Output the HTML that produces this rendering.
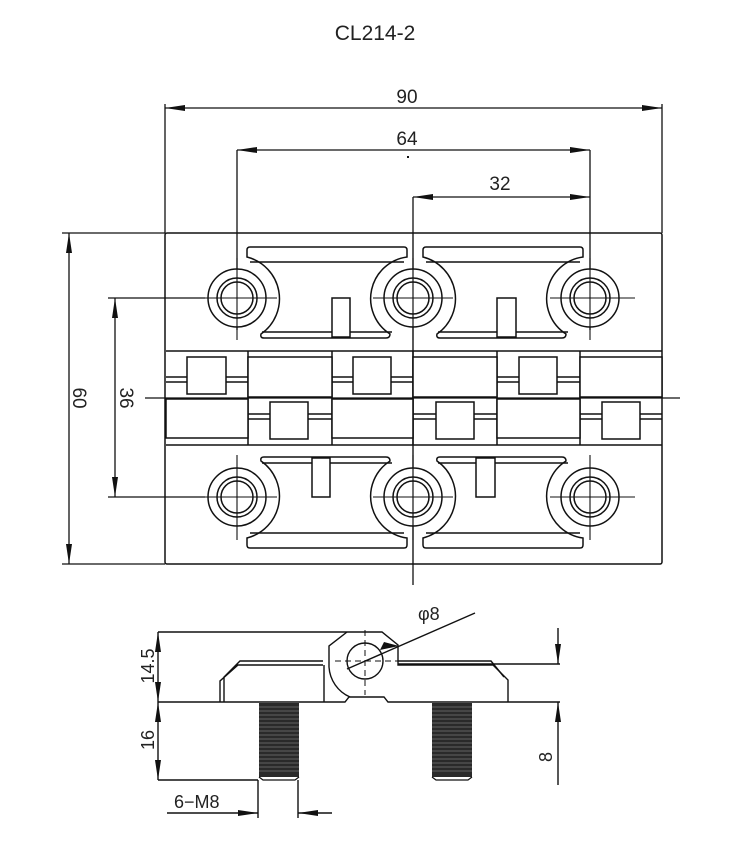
<!DOCTYPE html>
<html><head><meta charset="utf-8"><style>
html,body{margin:0;padding:0;background:#fff;}
svg{display:block;}
text{font-family:"Liberation Sans",sans-serif;fill:#222;}
</style></head><body>
<svg width="750" height="867" viewBox="0 0 750 867" xmlns="http://www.w3.org/2000/svg">
<defs>
<marker id="a" viewBox="0 0 20 8" refX="20" refY="4" markerWidth="20" markerHeight="8" markerUnits="userSpaceOnUse" orient="auto-start-reverse"><path d="M0,1 L20,4 L0,7 Z" fill="#111"/></marker>
<g id="slot" fill="none" stroke="#111" stroke-width="1.5">
<path d="M250,247 H404 Q407,247 407,250 V257 A42 42 0 0 0 390 334 Q390,338 386,338 H264 Q260,338 261,334 A43 43 0 0 0 247 257 V250 Q247,247 250,247 Z"/>
<path d="M250,262 H404 M262,332 H392"/>
</g>
<g id="hole" fill="none" stroke="#111" stroke-width="1.5">
<circle r="29"/><circle r="20"/><circle r="16"/>
</g>
</defs>

<text x="375" y="40" font-size="21" text-anchor="middle">CL214-2</text>

<g stroke="#111" stroke-width="1.3" fill="none">
<line x1="165" y1="108" x2="662" y2="108" marker-start="url(#a)" marker-end="url(#a)"/>
<line x1="165" y1="104" x2="165" y2="233"/><line x1="662" y1="104" x2="662" y2="233"/>
<line x1="237" y1="150" x2="590" y2="150" marker-start="url(#a)" marker-end="url(#a)"/>
<line x1="237" y1="150" x2="237" y2="330"/><line x1="590" y1="150" x2="590" y2="330"/>
<line x1="413" y1="197" x2="590" y2="197" marker-start="url(#a)" marker-end="url(#a)"/>
<line x1="413" y1="197" x2="413" y2="585"/>
<line x1="69" y1="233" x2="69" y2="564" marker-start="url(#a)" marker-end="url(#a)"/>
<line x1="62" y1="233" x2="165" y2="233"/><line x1="62" y1="564" x2="165" y2="564"/>
<line x1="115" y1="298" x2="115" y2="497" marker-start="url(#a)" marker-end="url(#a)"/>
<line x1="108" y1="298" x2="205" y2="298"/><line x1="108" y1="497" x2="205" y2="497"/>
</g>
<rect x="407" y="156" width="2" height="2" fill="#111"/>
<text x="407" y="103" font-size="19" text-anchor="middle">90</text>
<text x="407" y="145" font-size="19" text-anchor="middle">64</text>
<text x="500" y="190" font-size="19" text-anchor="middle">32</text>
<text transform="translate(73,398) rotate(90)" font-size="19" text-anchor="middle">60</text>
<text transform="translate(120,398) rotate(90)" font-size="19" text-anchor="middle">36</text>

<g stroke="#111" stroke-width="1.5" fill="none">
<rect x="165" y="233" width="497" height="331" rx="2"/>
<line x1="166" y1="351" x2="662" y2="351"/>
<line x1="166" y1="445" x2="662" y2="445"/>
<line x1="145" y1="398" x2="680" y2="398" stroke-width="1.2"/>
<line x1="248" y1="351" x2="248" y2="445"/><line x1="332" y1="351" x2="332" y2="445"/>
<line x1="413" y1="351" x2="413" y2="445"/><line x1="497" y1="351" x2="497" y2="445"/>
<line x1="580" y1="351" x2="580" y2="445"/>
<path d="M166,377 H662 M166,382 H662"/>
<path d="M166,414 H662 M166,419 H662"/>
</g>
<g fill="#fff" stroke="#111" stroke-width="1.5">
<rect x="248" y="357" width="84" height="40"/><rect x="413" y="357" width="84" height="40"/><rect x="580" y="357" width="82" height="40"/>
<rect x="166" y="399" width="82" height="39"/><rect x="332" y="399" width="81" height="39"/><rect x="497" y="399" width="83" height="39"/>
<rect x="187" y="357" width="39" height="37"/><rect x="353" y="357" width="38" height="37"/><rect x="519" y="357" width="38" height="37"/>
<rect x="270" y="402" width="38" height="37"/><rect x="436" y="402" width="38" height="37"/><rect x="602" y="402" width="38" height="37"/>
</g>

<use href="#slot"/>
<use href="#slot" transform="translate(176,0)"/>
<use href="#slot" transform="translate(0,795) scale(1,-1)"/>
<use href="#slot" transform="translate(176,795) scale(1,-1)"/>
<g fill="#fff" stroke="#111" stroke-width="1.5">
<rect x="332" y="298" width="18" height="39"/><rect x="497" y="298" width="19" height="39"/>
<rect x="312" y="458" width="18" height="39"/><rect x="476" y="458" width="19" height="39"/>
</g>
<g fill="#fff">
<circle cx="237" cy="298" r="29"/><circle cx="413" cy="298" r="29"/><circle cx="590" cy="298" r="29"/>
<circle cx="237" cy="497" r="29"/><circle cx="413" cy="497" r="29"/><circle cx="590" cy="497" r="29"/>
</g>
<use href="#hole" transform="translate(237,298)"/><use href="#hole" transform="translate(413,298)"/><use href="#hole" transform="translate(590,298)"/>
<use href="#hole" transform="translate(237,497)"/><use href="#hole" transform="translate(413,497)"/><use href="#hole" transform="translate(590,497)"/>
<g stroke="#111" stroke-width="1.1">
<path d="M197,298 H277 M237,258 V340 M373,298 H453 M413,258 V340 M550,298 H635 M590,258 V340"/>
<path d="M197,497 H277 M237,455 V540 M373,497 H453 M413,455 V540 M550,497 H635 M590,455 V540"/>
<line x1="413" y1="233" x2="413" y2="564"/>
</g>

<g stroke="#111" stroke-width="1.4" fill="none">
<line x1="158" y1="632" x2="347" y2="632"/>
<path d="M347,632 H382 L398,645 V665 H493 L508,680 V702"/>
<path d="M398,661 H491 L504,677"/>
<path d="M347,632 L329,646 V667 A35 35 0 0 0 350 697"/>
<path d="M323,665 H238 L220,681 V702 M323,661 H240 L224,677 V702"/>
<line x1="324" y1="665" x2="324" y2="702"/>
<path d="M158,702 H345 L349,697 H384 L388,702 H560"/>
<circle cx="365" cy="661" r="18"/>
<line x1="158" y1="780" x2="258" y2="780"/>
<line x1="158" y1="632" x2="158" y2="702" marker-start="url(#a)" marker-end="url(#a)"/>
<line x1="158" y1="702" x2="158" y2="780" marker-start="url(#a)" marker-end="url(#a)"/>
<line x1="398" y1="664" x2="560" y2="664"/>
<line x1="558" y1="628" x2="558" y2="664" marker-end="url(#a)"/>
<line x1="558" y1="785" x2="558" y2="702" marker-end="url(#a)"/>
<line x1="258" y1="780" x2="258" y2="818"/><line x1="298" y1="780" x2="298" y2="818"/>
<line x1="167" y1="813" x2="258" y2="813" marker-end="url(#a)"/>
<line x1="332" y1="813" x2="298" y2="813" marker-end="url(#a)"/>
<line x1="475" y1="613" x2="347" y2="669"/>
</g>
<path d="M399,646 L380,650 L384,642 Z" fill="#111"/>
<g stroke="#111" stroke-width="1" stroke-dasharray="6,4">
<line x1="335" y1="661" x2="398" y2="661"/><line x1="365" y1="630" x2="365" y2="695"/>
</g>
<g>
<rect x="259" y="703" width="40" height="74" fill="#2a2a2a"/>
<rect x="432" y="703" width="40" height="74" fill="#2a2a2a"/>
<g stroke="#777" stroke-width="0.8">
<path d="M259,707H299M259,711H299M259,715H299M259,719H299M259,723H299M259,727H299M259,731H299M259,735H299M259,739H299M259,743H299M259,747H299M259,751H299M259,755H299M259,759H299M259,763H299M259,767H299M259,771H299"/>
<path d="M432,707H472M432,711H472M432,715H472M432,719H472M432,723H472M432,727H472M432,731H472M432,735H472M432,739H472M432,743H472M432,747H472M432,751H472M432,755H472M432,759H472M432,763H472M432,767H472M432,771H472"/>
</g>
<path d="M259,777 L263,780 H295 L299,777" fill="none" stroke="#111" stroke-width="1.2"/>
<path d="M432,777 L436,780 H468 L472,777" fill="none" stroke="#111" stroke-width="1.2"/>
</g>
<text x="418" y="620" font-size="18">φ8</text>
<text transform="translate(154,666) rotate(-90)" font-size="18" text-anchor="middle">14.5</text>
<text transform="translate(154,740) rotate(-90)" font-size="18" text-anchor="middle">16</text>
<text transform="translate(552,757) rotate(-90)" font-size="18" text-anchor="middle">8</text>
<text x="174" y="808" font-size="18">6−M8</text>
</svg>
</body></html>
